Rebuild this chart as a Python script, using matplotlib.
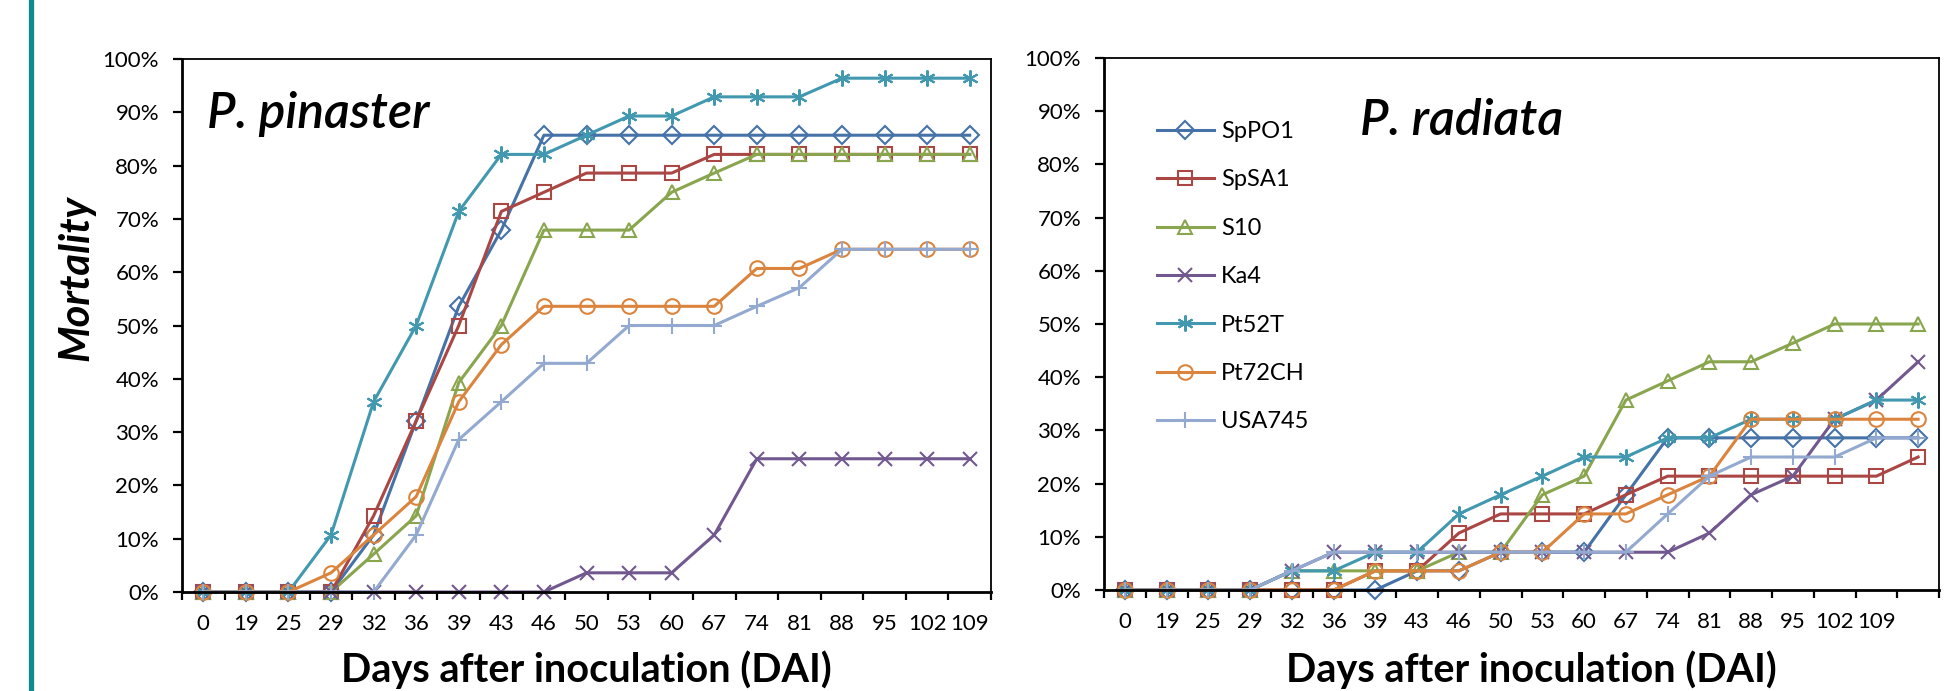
import numpy as np
import matplotlib
matplotlib.use("Agg")
import matplotlib.pyplot as plt
from matplotlib.lines import Line2D
from matplotlib.ticker import PercentFormatter

plt.rcParams['font.family'] = ['Lato', 'DejaVu Sans']

# days after inoculation (category labels)
days_left = ['0', '19', '25', '29', '32', '36', '39', '43', '46', '50',
             '53', '60', '67', '74', '81', '88', '95', '102', '109']
days_right = days_left + ['']

strains = ['SpPO1', 'SpSA1', 'S10', 'Ka4', 'Pt52T', 'Pt72CH', 'USA745']

# P. pinaster mortality (%)
SpPO1_L = [0, 0, 0, 0, 10.7, 32.1, 53.6, 67.9, 85.7, 85.7, 85.7, 85.7, 85.7, 85.7, 85.7, 85.7, 85.7, 85.7, 85.7]
SpSA1_L = [0, 0, 0, 0, 14.3, 32.1, 50.0, 71.4, 75.0, 78.6, 78.6, 78.6, 82.1, 82.1, 82.1, 82.1, 82.1, 82.1, 82.1]
S10_L = [0, 0, 0, 0, 7.1, 14.3, 39.3, 50.0, 67.9, 67.9, 67.9, 75.0, 78.6, 82.1, 82.1, 82.1, 82.1, 82.1, 82.1]
Ka4_L = [0, 0, 0, 0, 0, 0, 0, 0, 0, 3.6, 3.6, 3.6, 10.7, 25.0, 25.0, 25.0, 25.0, 25.0, 25.0]
Pt52T_L = [0, 0, 0, 10.7, 35.7, 50.0, 71.4, 82.1, 82.1, 85.7, 89.3, 89.3, 92.9, 92.9, 92.9, 96.4, 96.4, 96.4, 96.4]
Pt72CH_L = [0, 0, 0, 3.6, 10.7, 17.9, 35.7, 46.4, 53.6, 53.6, 53.6, 53.6, 53.6, 60.7, 60.7, 64.3, 64.3, 64.3, 64.3]
USA745_L = [0, 0, 0, 0, 0, 10.7, 28.6, 35.7, 42.9, 42.9, 50.0, 50.0, 50.0, 53.6, 57.1, 64.3, 64.3, 64.3, 64.3]

# P. radiata mortality (%)
SpPO1_R = [0, 0, 0, 0, 0, 0, 0, 3.6, 3.6, 7.1, 7.1, 7.1, 17.9, 28.6, 28.6, 28.6, 28.6, 28.6, 28.6, 28.6]
SpSA1_R = [0, 0, 0, 0, 0, 0, 3.6, 3.6, 10.7, 14.3, 14.3, 14.3, 17.9, 21.4, 21.4, 21.4, 21.4, 21.4, 21.4, 25.0]
S10_R = [0, 0, 0, 0, 3.6, 3.6, 3.6, 3.6, 7.1, 7.1, 17.9, 21.4, 35.7, 39.3, 42.9, 42.9, 46.4, 50.0, 50.0, 50.0]
Ka4_R = [0, 0, 0, 0, 3.6, 7.1, 7.1, 7.1, 7.1, 7.1, 7.1, 7.1, 7.1, 7.1, 10.7, 17.9, 21.4, 32.1, 35.7, 42.9]
Pt52T_R = [0, 0, 0, 0, 3.6, 3.6, 7.1, 7.1, 14.3, 17.9, 21.4, 25.0, 25.0, 28.6, 28.6, 32.1, 32.1, 32.1, 35.7, 35.7]
Pt72CH_R = [0, 0, 0, 0, 0, 0, 3.6, 3.6, 3.6, 7.1, 7.1, 14.3, 14.3, 17.9, 21.4, 32.1, 32.1, 32.1, 32.1, 32.1]
USA745_R = [0, 0, 0, 0, 3.6, 7.1, 7.1, 7.1, 7.1, 7.1, 7.1, 7.1, 7.1, 14.3, 21.4, 25.0, 25.0, 25.0, 28.6, 28.6]

colors = ['#4572A7', '#AA4643', '#89A54E', '#71588F', '#4198AF', '#DB843D', '#93A9CF']
markers = ['D', 's', '^', 'x', (6, 2, 0), 'o', '+']
msizes = [9, 10, 10.5, 10, 11.5, 10.5, 11.5]

left_series = [SpPO1_L, SpSA1_L, S10_L, Ka4_L, Pt52T_L, Pt72CH_L, USA745_L]
right_series = [SpPO1_R, SpSA1_R, S10_R, Ka4_R, Pt52T_R, Pt72CH_R, USA745_R]

fig = plt.figure(figsize=(19.48, 6.91), dpi=100)
W, H = 1948, 691
ax1 = fig.add_axes([182 / W, 1 - 592 / H, (991 - 182) / W, (592 - 59) / H])
ax2 = fig.add_axes([1104 / W, 1 - 590 / H, (1939 - 1104) / W, (590 - 58) / H])


def draw_panel(ax, series, labels):
    n = len(labels)
    x = np.arange(n)
    for vals, name, c, m, ms in zip(series, strains, colors, markers, msizes):
        y = np.array(vals) / 100.0
        ax.plot(x, y, color=c, lw=2.2, marker=m, markersize=ms, markerfacecolor='none',
                markeredgecolor=c, markeredgewidth=1.5, label=name, clip_on=False)
    ax.set_xlim(-0.5, n - 0.5)
    ax.set_ylim(0, 1)
    ax.set_yticks(np.arange(0, 1.01, 0.1))
    ax.yaxis.set_major_formatter(PercentFormatter(1.0, decimals=0))
    # ticks between categories, labels centred on them
    ax.set_xticks(np.arange(n + 1) - 0.5)
    ax.set_xticklabels([])
    ax.set_xticks(x, minor=True)
    ax.set_xticklabels(labels, minor=True)
    ax.tick_params(axis='x', which='major', direction='out', length=6, width=1.6)
    ax.tick_params(axis='x', which='minor', length=0, pad=16, labelsize=16)
    ax.tick_params(axis='y', direction='out', length=6.5, width=1.6, pad=10, labelsize=16)
    ax.spines['left'].set_linewidth(2.0)
    ax.spines['bottom'].set_linewidth(2.0)
    ax.spines['top'].set_linewidth(1.3)
    ax.spines['right'].set_linewidth(1.3)


draw_panel(ax1, left_series, days_left)
draw_panel(ax2, right_series, days_right)

ax1.text(0.031, 0.870, 'P. pinaster', transform=ax1.transAxes, fontsize=36,
         style='italic', fontweight='semibold', va='baseline', ha='left')
ax2.text(0.3066, 0.855, 'P. radiata', transform=ax2.transAxes, fontsize=36,
         style='italic', fontweight='semibold', va='baseline', ha='left')

ax2.legend(loc='upper left', bbox_to_anchor=(0.0635, 0.8816), frameon=False,
           fontsize=17, handlelength=2.4, handletextpad=0.3, labelspacing=1.16,
           borderpad=0, borderaxespad=0)

fig.text(586.5 / W, 1 - 682 / H, 'Days after inoculation (DAI)', fontsize=28.5,
         fontweight='bold', ha='center', va='baseline')
fig.text(1531 / W, 1 - 682 / H, 'Days after inoculation (DAI)', fontsize=28.5,
         fontweight='bold', ha='center', va='baseline')
fig.text(76 / W, 1 - 278 / H, 'Mortality', fontsize=30, fontweight='bold',
         style='italic', rotation=90, ha='center', va='center')

# teal bar at the left edge
fig.add_artist(Line2D([31 / W, 31 / W], [0, 1], transform=fig.transFigure,
                      color='#12898A', lw=3.8))

fig.savefig('out.png', dpi=100)
